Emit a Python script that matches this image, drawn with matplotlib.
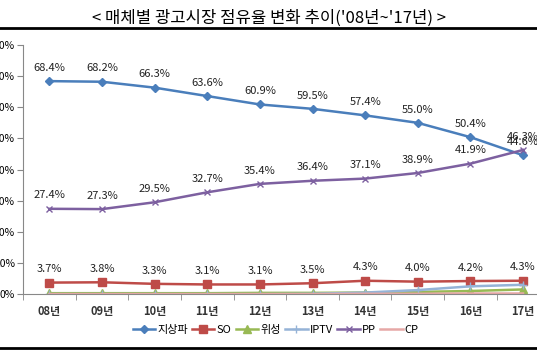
import matplotlib
matplotlib.use("Agg")
import matplotlib.pyplot as plt
from matplotlib.lines import Line2D

plt.rcParams["font.family"] = ["Noto Sans CJK KR", "DejaVu Sans"]

# data
years = ["08년", "09년", "10년", "11년", "12년", "13년", "14년", "15년", "16년", "17년"]
terrestrial = [68.4, 68.2, 66.3, 63.6, 60.9, 59.5, 57.4, 55.0, 50.4, 44.6]
so = [3.7, 3.8, 3.3, 3.1, 3.1, 3.5, 4.3, 4.0, 4.2, 4.3]
satellite = [0.3, 0.3, 0.3, 0.3, 0.4, 0.4, 0.5, 0.7, 1.0, 1.5]
iptv = [0.0, 0.0, 0.0, 0.0, 0.0, 0.1, 0.5, 1.3, 2.5, 3.0]
pp = [27.4, 27.3, 29.5, 32.7, 35.4, 36.4, 37.1, 38.9, 41.9, 46.3]
cp = [0.0, 0.0, 0.0, 0.0, 0.0, 0.0, 0.1, 0.1, 0.2, 0.2]

fig = plt.figure(figsize=(5.37, 3.6), dpi=100)
ax = fig.add_axes([0.043, 0.183, 0.98, 0.692])

x = list(range(len(years)))
ax.plot(x, terrestrial, color="#4a7ebb", marker="D", markersize=4, lw=1.8, label="지상파")
ax.plot(x, so, color="#be4b48", marker="s", markersize=6, lw=1.8, label="SO")
ax.plot(x, satellite, color="#98b954", marker="^", markersize=6, lw=1.8, label="위성")
ax.plot(x, iptv, color="#95b3d7", marker="+", markersize=6, lw=1.8, label="IPTV")
ax.plot(x, pp, color="#7d60a0", marker="x", markersize=5, lw=1.8, label="PP")
ax.plot(x, cp, color="#e6a8a6", lw=1.8, label="CP")

for series in (terrestrial, pp, so):
    for i, v in enumerate(series):
        ax.annotate("%.1f%%" % v, (i, v), xytext=(0, 6), textcoords="offset points",
                    ha="center", va="bottom", fontsize=8, color="#222222")

ax.set_xlim(-0.5, 9.5)
ax.set_ylim(0, 80)
ax.set_yticks(range(0, 81, 10))
ax.set_yticklabels(["%d%%" % t for t in range(0, 81, 10)], fontsize=7.5)
ax.set_xticks(x)
ax.set_xticklabels(years, fontsize=8, fontweight="bold", color="#333333")
ax.set_xticks([i + 0.5 for i in range(-1, 10)], minor=True)
ax.tick_params(axis="x", which="major", length=0, pad=8)
ax.tick_params(axis="x", which="minor", length=4, color="#888888")
ax.tick_params(axis="y", length=4, color="#888888", pad=2)
for s in ("top", "right"):
    ax.spines[s].set_visible(False)
ax.spines["left"].set_color("#888888")
ax.spines["bottom"].set_color("#888888")

ax.legend(loc="center", bbox_to_anchor=(0.48, -0.145), ncol=6, frameon=False,
          fontsize=8, handlelength=2.0, columnspacing=0.4, handletextpad=0.2)

fig.text(0.5, 0.95, "< 매체별 광고시장 점유율 변화 추이('08년~'17년) >", ha="center",
         va="center", fontsize=12)
fig.add_artist(Line2D([0, 1], [0.922, 0.922], color="black", lw=2))
fig.add_artist(Line2D([0, 1], [0.033, 0.033], color="black", lw=2))

fig.savefig("out.png", dpi=100)
